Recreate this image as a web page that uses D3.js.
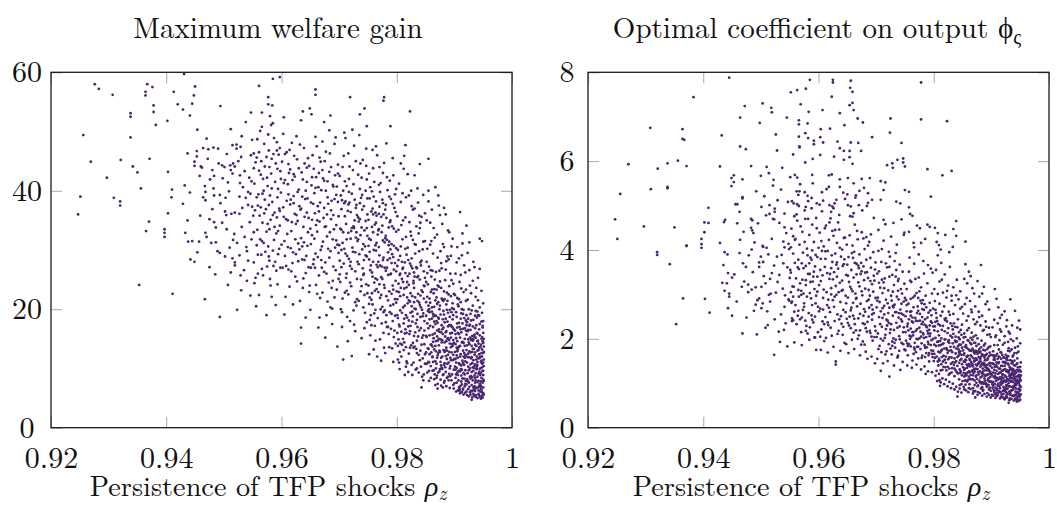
<!DOCTYPE html>
<html><head><meta charset="utf-8">
<script src="https://cdn.jsdelivr.net/npm/d3@7"></script>
<style>
body{margin:0;background:#fff}
svg{display:block}
</style></head>
<body><svg id="chart" width="1057" height="506"></svg>
<script>
// ---- axis values ----
const xTickValues = [0.92, 0.94, 0.96, 0.98, 1];
const welfareTicks = [0, 20, 40, 60];
const phiTicks = [0, 2, 4, 6, 8];
const leftTitle = "Maximum welfare gain";
const rightTitle = "Optimal coefficient on output ";
const xLabel = "Persistence of TFP shocks ";

// ---- left panel: (rho_z, maximum welfare gain) pairs ----
const welfareData = [
.9276,58.0,.9283,57.2,.9307,56.2,.9367,58.0,.9376,57.5,.9364,56.7,.9364,56.1,.9431,59.7,.9450,57.6,.9413,56.7,.9448,56.1,.9378,54.4,.9378,53.3,.9420,54.6,.9429,53.7,.9445,54.7,.9441,52.7,.9494,54.3,.9338,53.1,.9338,52.5,.9402,51.8,.9382,51.1,.9256,49.4,.9338,49.0,.9269,44.9,.9321,45.2,.9371,45.4,.9342,44.1,.9350,43.1,.9403,43.2,.9297,42.2,.9356,40.4,.9410,40.2,.9409,38.9,.9251,39.0,.9309,38.8,.9320,38.2,.9320,37.5,.9247,36.0,.9403,36.2,.9370,34.8,.9365,33.2,.9397,33.5,.9397,32.9,.9397,32.2,.9432,40.9,.9429,37.8,.9437,35.0,.9433,32.9,.9438,31.4,.9445,31.5,.9442,28.4,.9353,24.1,.9411,22.6,
.9453,46.7,.9464,47.2,.9473,47.0,.9482,47.3,.9490,47.1,.9515,47.7,.9522,47.8,.9529,47.4,.9522,47.1,.9453,45.8,.9449,44.9,.9449,44.2,.9460,44.1,.9462,43.9,.9472,45.4,.9480,43.5,.9491,44.6,.9501,44.0,.9497,44.3,.9511,44.3,.9516,44.6,.9512,43.5,.9519,44.1,.9525,45.0,.9530,45.7,.9547,46.0,.9552,46.3,
.9441,39.7,.9467,40.8,.9482,40.4,.9483,39.2,.9493,39.3,.9503,38.8,.9494,37.9,.9502,36.5,.9504,35.9,.9513,36.1,.9519,36.3,.9527,36.1,.9532,37.1,.9538,38.8,.9542,37.6,.9549,37.3,.9528,41.3,.9542,39.8,.9528,42.6,.9515,42.9,.9507,41.4,.9483,42.5,.9468,39.8,.9464,38.9,.9468,38.4,.9483,34.7,.9468,32.9,.9470,32.2,.9478,31.2,.9486,31.3,.9518,32.7,.9516,31.7,.9523,31.2,
.9437,46.3,.9449,28.0,.9454,29.6,.9475,27.1,.9485,25.9,.9515,28.6,.9519,27.4,.9519,27.9,.9529,25.7,.9542,28.2,.9540,24.8,.9467,21.7,.9493,18.7,.9523,19.9,.9530,23.2,.9507,24.1,.9493,29.5,.9540,29.8,
.9486,33.8,.9497,34.6,.9505,33.5,.9510,30.4,.9531,33.9,.9536,32.2,.9545,34.7,.9548,31.8,.9539,30.5,.9527,29.1,.9502,28.9,.9480,36.9,.9475,35.2,.9459,35.8,.9457,31.4,.9489,29.8,.9512,26.2,.9535,26.6,.9546,22.3,.9548,41.6,.9536,43.3,.9544,42.2,.9505,46.2,.9498,42.1,.9509,39.9,.9527,39.0,.9533,40.6,.9458,42.5,.9476,41.9,.9551,35.8,.9546,39.5,.9552,43.8,.9549,48.6,.9531,49.2,.9512,50.4,.9538,51.6,.9547,53.2,.9470,48.8,.9454,50.3,
.9556,20.5,.9552,27.9,.9553,24.4,.9555,25.3,.9568,25.7,.9580,25.1,.9575,27.2,.9581,24.0,.9593,24.2,.9589,28.0,.9578,28.9,.9565,29.2,.9559,29.2,.9557,45.6,.9561,46.5,.9565,45.0,.9578,46.8,.9586,46.2,.9592,48.2,.9597,47.2,.9559,37.5,.9567,39.5,.9561,57.7,.9577,55.8,.9577,54.6,.9580,52.6,.9566,53.2,.9582,51.1,.9577,49.5,.9563,50.1,.9566,50.8,.9585,58.9,.9597,59.2,.9585,51.4,.9584,54.4,
.9553,41.2,.9558,33.4,.9562,35.8,.9564,42.7,.9569,31.2,.9571,44.1,.9573,36.9,.9576,40.8,.9579,33.5,.9582,42.9,.9584,38.1,.9587,31.7,.9590,44.6,.9592,35.5,.9594,40.3,.9596,30.2,.9598,43.3,.9555,44.8,.9560,39.4,.9563,31.8,.9567,34.6,.9570,47.9,.9572,29.7,.9575,42.2,.9578,37.6,.9581,35.1,.9583,45.4,.9586,27.3,.9589,41.5,.9591,32.8,.9593,38.9,.9595,46.1,.9597,34.1,.9599,39.7,.9554,36.7,.9557,30.8,.9561,22.4,.9566,26.8,.9569,40.0,.9574,33.1,.9577,30.6,.9580,39.2,.9585,35.9,.9588,36.3,.9591,26.5,.9594,29.3,.9596,37.0,.9599,42.0,.9558,48.7,.9564,37.2,.9571,38.5,.9579,44.0,.9587,48.9,.9593,43.7,.9598,27.0,.9583,22.1,.9574,19.0,.9590,20.7,
.9604,52.4,.9634,51.9,.9637,53.4,.9649,53.9,.9652,52.9,.9659,57.1,.9659,56.2,
.9601,44.9,.9603,37.2,.9605,31.5,.9606,41.8,.9608,27.3,.9609,46.5,.9611,35.0,.9612,39.4,.9614,23.8,.9615,43.6,.9617,33.2,.9618,48.1,.9620,29.6,.9621,37.9,.9623,42.4,.9624,25.5,.9626,35.9,.9627,45.3,.9629,31.1,.9630,40.2,.9632,21.4,.9633,36.8,.9634,16.9,.9634,14.2,.9635,43.1,.9636,28.4,.9638,33.9,.9639,47.2,.9641,38.6,.9642,26.1,.9644,41.5,.9645,30.7,.9647,35.4,.9648,44.2,.9649,24.0,.9650,19.9,.9651,38.0,.9653,32.5,.9654,46.0,.9603,49.6,.9607,22.1,.9610,32.7,.9613,43.0,.9616,38.5,.9619,27.8,.9622,45.9,.9625,34.4,.9628,39.8,.9631,30.1,.9637,41.9,.9640,35.6,.9643,29.0,.9646,45.5,.9652,40.9,.9655,27.6,.9604,35.6,.9606,29.0,.9609,38.3,.9612,26.7,.9618,34.7,.9621,42.8,.9624,31.8,.9627,24.7,.9631,37.4,.9634,32.0,.9637,23.6,.9640,44.6,.9644,36.3,.9647,27.1,.9650,33.6,.9653,42.3,.9605,19.1,.9614,46.9,.9620,20.8,.9626,49.2,.9632,47.8,.9642,18.6,.9648,22.9,.9616,30.3,.9629,28.1,.9639,31.3,.9636,39.0,.9611,41.1,.9623,36.1,.9645,38.7,.9651,31.0,
.9674,51.6,.9685,52.7,.9709,49.8,
.9656,43.7,.9658,36.2,.9659,29.4,.9661,47.5,.9662,33.1,.9664,40.6,.9665,25.7,.9667,38.0,.9668,44.9,.9670,30.6,.9671,22.8,.9673,35.4,.9674,41.7,.9676,27.9,.9677,46.6,.9679,32.3,.9680,38.9,.9682,24.5,.9683,43.2,.9685,29.8,.9686,36.7,.9688,20.1,.9689,41.0,.9691,33.5,.9692,47.9,.9694,26.6,.9695,39.3,.9697,30.9,.9698,44.4,.9699,35.7,.9657,31.9,.9660,24.1,.9663,37.4,.9666,45.6,.9669,28.3,.9672,42.1,.9675,33.9,.9678,19.0,.9681,30.2,.9684,46.3,.9687,38.3,.9690,27.2,.9693,42.6,.9696,23.3,.9699,29.5,.9657,39.6,.9660,42.3,.9663,28.8,.9666,34.8,.9669,40.1,.9672,31.4,.9675,45.0,.9678,26.0,.9681,37.8,.9684,33.0,.9687,23.6,.9690,35.9,.9693,30.4,.9696,40.7,.9699,25.1,.9664,16.9,.9676,15.2,.9688,17.5,.9697,13.7,.9659,49.1,.9671,48.3,.9683,50.2,.9694,49.0,.9667,21.9,.9680,21.3,.9692,22.0,.9658,27.0,.9674,37.1,.9686,44.0,.9698,38.1,.9662,35.0,.9677,40.0,.9689,31.8,.9665,43.0,.9695,34.2,
.9719,55.8,.9736,52.9,.9744,53.9,
.9701,42.5,.9702,33.6,.9704,27.1,.9705,38.4,.9706,21.8,.9708,45.9,.9709,30.2,.9710,35.7,.9712,25.3,.9713,40.8,.9714,18.7,.9716,32.9,.9717,28.5,.9718,44.1,.9720,36.4,.9721,23.9,.9722,39.5,.9724,29.7,.9725,34.0,.9726,47.6,.9728,26.4,.9729,37.1,.9730,20.6,.9732,31.5,.9733,42.7,.9734,27.6,.9736,35.2,.9737,23.0,.9738,38.8,.9740,30.1,.9741,45.2,.9742,25.8,.9744,33.3,.9745,19.4,.9746,40.0,.9748,28.9,.9749,36.0,.9702,24.6,.9704,36.9,.9706,31.2,.9708,27.7,.9710,41.6,.9712,34.4,.9714,29.0,.9716,22.5,.9718,38.0,.9720,31.9,.9722,26.8,.9724,43.5,.9726,33.7,.9728,21.2,.9730,37.6,.9732,28.0,.9734,34.8,.9736,40.3,.9738,25.0,.9740,36.8,.9742,31.0,.9744,22.4,.9746,34.9,.9748,41.9,.9701,28.2,.9703,39.2,.9705,17.0,.9707,33.0,.9709,37.9,.9711,29.4,.9713,23.1,.9715,36.6,.9717,42.0,.9719,27.3,.9721,33.2,.9723,30.4,.9725,19.8,.9727,38.5,.9729,32.1,.9731,25.1,.9733,35.5,.9735,29.3,.9737,44.6,.9739,33.8,.9741,26.9,.9743,37.4,.9745,30.6,.9747,24.2,.9749,32.4,.9707,11.5,.9722,12.1,.9715,14.6,.9728,16.3,.9739,15.1,.9748,17.8,.9711,48.9,.9723,50.3,.9735,49.4,.9747,47.1,.9703,20.0,.9719,18.0,.9731,21.7,.9742,20.3,.9706,44.0,.9716,46.3,.9729,45.0,.9739,42.2,.9704,30.0,.9713,26.0,.9727,35.0,.9733,31.8,.9743,28.3,.9749,38.7,
.9748,50.9,.9778,55.8,.9777,55.2,.9789,50.9,.9794,11.1,.9752,12.4,
.9751,35.1,.9752,28.4,.9753,22.0,.9754,40.6,.9755,31.7,.9756,17.3,.9757,26.2,.9758,37.0,.9759,43.8,.9760,30.0,.9761,24.5,.9762,34.3,.9763,19.9,.9764,38.2,.9765,27.5,.9766,46.0,.9767,32.6,.9768,22.9,.9769,36.1,.9770,29.1,.9771,14.9,.9772,41.3,.9773,25.4,.9774,33.0,.9775,20.4,.9776,37.9,.9777,28.7,.9778,44.7,.9779,23.6,.9780,32.0,.9781,17.8,.9782,35.4,.9783,27.0,.9784,40.1,.9785,21.5,.9786,30.8,.9787,13.6,.9788,34.7,.9789,25.9,.9790,38.6,.9791,19.2,.9792,29.3,.9793,45.5,.9794,23.3,.9795,33.6,.9796,16.4,.9797,27.8,.9798,36.4,.9799,21.1,.9751,24.0,.9753,38.7,.9755,19.0,.9757,33.9,.9759,28.0,.9761,41.5,.9763,25.2,.9765,35.8,.9767,18.5,.9769,30.5,.9771,39.8,.9773,22.4,.9775,34.1,.9777,16.0,.9779,31.3,.9781,26.5,.9783,42.3,.9785,29.6,.9787,23.0,.9789,35.0,.9791,31.0,.9793,18.0,.9795,26.7,.9797,39.4,.9799,30.3,.9752,31.9,.9754,26.6,.9756,36.5,.9758,20.8,.9760,39.0,.9762,23.1,.9764,29.9,.9766,25.0,.9768,33.3,.9770,37.3,.9772,20.0,.9774,27.2,.9776,31.6,.9778,24.1,.9780,36.8,.9782,22.2,.9784,28.3,.9786,33.8,.9788,19.5,.9790,26.0,.9792,34.0,.9794,28.8,.9796,37.1,.9798,24.8,.9752,42.9,.9758,46.9,.9764,47.5,.9770,44.0,.9776,43.0,.9782,48.0,.9788,41.7,.9794,42.6,.9799,40.3,.9754,15.6,.9760,13.2,.9766,12.0,.9773,11.3,.9780,12.6,.9786,15.8,.9792,13.4,.9798,14.2,.9756,21.6,.9762,17.2,.9768,28.0,.9774,17.6,.9779,19.8,.9785,17.0,.9791,22.6,.9797,18.9,.9753,29.7,.9759,33.0,.9765,31.2,.9771,27.4,.9777,36.0,.9783,31.7,.9789,30.1,.9795,30.7,.9757,39.9,.9763,36.3,.9769,41.0,.9775,38.5,.9781,37.6,.9787,39.0,.9793,37.8,.9799,33.1,
.9823,53.4,.9815,47.7,.9855,45.4,.9840,44.5,.9831,42.6,.9855,40.0,.9843,6.8,
.9801,27.3,.9802,18.5,.9803,33.4,.9804,22.9,.9805,12.8,.9806,29.0,.9807,38.1,.9808,16.2,.9809,25.1,.9810,31.8,.9811,20.3,.9812,43.7,.9813,14.4,.9814,27.9,.9815,35.5,.9816,19.0,.9817,23.7,.9818,10.9,.9819,30.4,.9820,17.1,.9821,39.2,.9822,26.0,.9823,21.3,.9824,33.1,.9825,13.9,.9826,28.6,.9827,19.6,.9828,36.8,.9829,24.4,.9830,15.5,.9831,31.0,.9832,22.0,.9833,9.8,.9834,27.1,.9835,18.2,.9836,40.4,.9837,25.6,.9838,12.3,.9839,29.8,.9840,20.7,.9841,34.6,.9842,16.8,.9843,23.2,.9844,8.6,.9845,30.1,.9846,19.3,.9847,26.4,.9848,14.1,.9849,36.2,
.9801,21.7,.9803,14.9,.9805,25.8,.9807,30.6,.9809,19.4,.9811,35.0,.9813,23.5,.9815,16.6,.9817,29.2,.9819,21.0,.9821,12.5,.9823,27.7,.9825,32.4,.9827,17.9,.9829,24.8,.9831,20.1,.9833,30.9,.9835,14.7,.9837,22.6,.9839,35.8,.9841,18.7,.9843,28.2,.9845,11.7,.9847,21.8,.9849,25.3,
.9802,30.0,.9804,17.4,.9806,22.2,.9808,34.2,.9810,26.8,.9812,13.1,.9814,20.6,.9816,32.2,.9818,24.6,.9820,28.3,.9822,15.8,.9824,22.7,.9826,37.4,.9828,18.8,.9830,26.2,.9832,29.4,.9834,13.3,.9836,21.4,.9838,32.8,.9840,25.0,.9842,10.3,.9844,19.9,.9846,31.4,.9848,23.9,
.9801,35.7,.9804,41.2,.9807,44.6,.9810,39.6,.9813,45.9,.9816,38.9,.9819,42.8,.9822,34.7,.9825,40.0,.9828,31.7,.9831,37.0,.9834,34.0,.9837,38.0,.9840,33.7,.9843,35.6,.9846,39.3,.9849,31.5,
.9802,11.5,.9805,9.9,.9808,12.0,.9811,15.0,.9814,8.9,.9817,11.2,.9820,9.4,.9823,13.5,.9826,10.6,.9829,11.0,.9832,16.1,.9835,10.0,.9838,9.3,.9841,13.0,.9844,15.2,.9847,9.0,.9849,10.8,
.9803,24.3,.9806,19.8,.9809,28.0,.9812,22.4,.9815,26.1,.9818,18.6,.9821,24.1,.9824,17.2,.9827,26.9,.9830,21.2,.9833,17.6,.9836,25.4,.9839,16.4,.9842,27.4,.9845,22.9,.9848,18.0,
.9801,16.0,.9806,14.2,.9811,27.0,.9816,13.6,.9821,18.1,.9826,20.5,.9831,13.7,.9836,17.0,.9841,22.3,.9846,15.6,
.9872,39.2,.9882,37.1,.9871,6.6,
.9851,24.6,.9852,15.3,.9853,30.2,.9854,19.7,.9855,11.1,.9856,27.2,.9857,21.8,.9858,34.6,.9859,14.0,.9860,25.5,.9861,18.4,.9862,9.6,.9863,29.4,.9864,22.7,.9865,13.2,.9866,32.1,.9867,17.5,.9868,26.3,.9869,8.4,.9870,20.9,.9871,28.7,.9872,12.6,.9873,23.8,.9874,16.2,.9875,35.9,.9876,19.1,.9877,10.5,.9878,26.9,.9879,14.8,.9880,31.0,.9881,21.4,.9882,7.6,.9883,17.8,.9884,24.9,.9885,12.1,.9886,28.1,.9887,19.9,.9888,15.0,.9889,33.3,.9890,22.5,.9891,9.1,.9892,18.7,.9893,26.0,.9894,13.6,.9895,30.6,.9896,20.2,.9897,11.4,.9898,24.3,.9899,16.6,
.9851,18.9,.9853,22.1,.9855,16.8,.9857,12.4,.9859,26.6,.9861,20.3,.9863,14.5,.9865,23.4,.9867,11.2,.9869,18.0,.9871,24.0,.9873,13.9,.9875,20.6,.9877,27.8,.9879,9.9,.9881,16.9,.9883,21.7,.9885,26.7,.9887,13.0,.9889,19.4,.9891,23.9,.9893,11.8,.9895,17.1,.9897,21.0,.9899,14.3,
.9852,28.0,.9854,13.4,.9856,20.0,.9858,17.2,.9860,31.5,.9862,15.7,.9864,18.8,.9866,25.0,.9868,12.9,.9870,16.4,.9872,21.2,.9874,26.5,.9876,14.9,.9878,10.1,.9880,18.3,.9882,23.0,.9884,15.4,.9886,20.8,.9888,10.8,.9890,28.4,.9892,14.2,.9894,22.2,.9896,16.0,.9898,19.0,
.9851,12.7,.9853,9.3,.9856,7.9,.9859,10.4,.9862,12.0,.9865,8.2,.9868,10.0,.9871,7.4,.9874,9.5,.9877,7.1,.9880,8.9,.9883,10.9,.9886,7.0,.9889,8.6,.9892,6.7,.9895,8.0,.9898,7.2,.9899,9.8,
.9852,35.0,.9855,38.2,.9858,30.9,.9861,36.8,.9864,33.7,.9867,40.6,.9870,32.6,.9873,37.5,.9876,29.8,.9879,34.4,.9882,30.5,.9885,36.0,.9888,28.9,.9891,33.0,.9894,29.0,.9897,31.9,
.9853,26.1,.9857,18.3,.9861,23.3,.9865,19.0,.9869,22.0,.9873,18.4,.9877,23.6,.9881,13.1,.9885,16.1,.9889,12.3,.9893,15.9,.9897,13.8,
.9851,21.2,.9855,20.6,.9859,22.9,.9863,17.0,.9867,21.5,.9871,14.7,.9875,24.7,.9879,21.6,.9883,12.8,.9887,22.8,.9891,17.3,.9895,24.9,.9899,20.0,
.9910,36.4,.9921,34.1,.9944,31.9,.9948,31.5,.9926,31.3,.9914,32.8,.9944,5.2,.9930,4.7,
.9901,22.4,.9902,14.1,.9903,9.0,.9904,27.9,.9905,17.6,.9906,11.8,.9907,20.5,.9908,6.8,.9909,24.6,.9910,15.2,.9911,12.4,.9912,19.3,.9913,29.1,.9914,8.3,.9915,16.7,.9916,22.9,.9917,10.6,.9918,13.8,.9919,26.2,.9920,18.1,.9921,7.3,.9922,11.0,.9923,21.6,.9924,14.9,.9925,9.7,.9926,17.2,.9927,24.0,.9928,12.7,.9929,6.2,.9930,19.8,.9931,15.5,.9932,10.2,.9933,28.0,.9934,13.3,.9935,8.8,.9936,18.9,.9937,22.1,.9938,11.5,.9939,16.0,.9940,7.7,.9941,25.3,.9942,14.2,.9943,9.4,.9944,20.3,.9945,12.0,.9946,6.6,.9947,17.9,.9948,10.8,.9949,14.6,.9950,8.1,
.9901,16.4,.9903,19.5,.9905,12.9,.9907,8.0,.9909,17.0,.9911,21.2,.9913,14.4,.9915,10.9,.9917,18.5,.9919,7.4,.9921,13.1,.9923,16.3,.9925,20.0,.9927,10.0,.9929,14.8,.9931,8.5,.9933,18.2,.9935,12.3,.9937,15.2,.9939,9.9,.9941,19.0,.9943,13.5,.9945,7.2,.9947,11.3,.9949,16.9,.9950,12.6,
.9902,11.6,.9904,7.6,.9906,20.8,.9908,13.7,.9910,9.5,.9912,16.1,.9914,11.3,.9916,14.3,.9918,7.0,.9920,12.2,.9922,17.8,.9924,10.3,.9926,6.9,.9928,19.2,.9930,11.9,.9932,14.7,.9934,6.4,.9936,10.7,.9938,17.3,.9940,13.0,.9942,9.1,.9944,15.6,.9946,11.1,.9948,6.0,.9950,18.0,.9951,10.4,
.9902,26.0,.9905,30.5,.9908,28.6,.9911,25.8,.9914,31.1,.9917,27.4,.9920,23.3,.9923,29.5,.9926,26.6,.9929,22.7,.9932,24.8,.9935,27.1,.9938,23.6,.9941,21.5,.9944,26.8,.9947,23.1,.9950,21.0,
.9901,10.3,.9904,13.5,.9906,16.0,.9909,10.7,.9912,7.8,.9915,13.0,.9918,9.0,.9921,15.7,.9924,12.5,.9927,8.6,.9930,13.8,.9933,9.6,.9936,14.0,.9939,12.0,.9942,6.3,.9945,10.0,.9948,13.2,.9951,7.9,
.9903,6.1,.9906,6.3,.9910,5.8,.9913,6.0,.9916,5.6,.9919,5.9,.9922,5.5,.9925,5.3,.9928,5.6,.9931,5.1,.9934,5.4,.9937,5.2,.9940,5.0,.9943,5.5,.9946,4.9,.9949,5.1,.9951,5.6,
.9904,18.7,.9908,21.7,.9912,23.5,.9916,19.9,.9920,21.4,.9924,18.4,.9928,16.5,.9932,20.6,.9936,16.8,.9940,19.6,.9944,17.5,.9948,19.4,.9951,15.0,
.9930,7.2,.9935,7.0,.9940,8.6,.9945,8.9,.9950,9.6,.9932,8.0,.9937,9.2,.9942,11.7,.9947,8.4,.9951,12.8,.9943,7.0,.9949,7.6,.9938,6.7,.9933,11.4,.9946,14.0,
.9552,33.0,.9557,38.9,.9561,43.4,.9566,31.5,.9570,36.2,.9574,45.7,.9579,28.2,.9583,40.4,.9588,33.9,.9592,46.8,.9597,36.6,.9600,30.9,.9604,41.3,.9608,35.2,.9612,44.5,.9617,26.4,.9621,39.1,.9625,29.3,.9630,43.8,.9634,37.0,.9638,25.2,.9642,40.0,.9646,33.0,.9651,27.0,.9655,37.8,.9559,26.0,.9568,42.0,.9576,34.4,.9585,29.9,.9594,33.2,.9602,27.0,.9611,30.5,.9619,41.8,.9628,34.9,.9636,30.6,.9644,43.9,.9653,35.1,.9606,46.2,.9615,37.7,.9640,28.3,
.9656,28.4,.9659,40.5,.9662,22.6,.9665,36.5,.9668,30.0,.9671,43.5,.9674,26.3,.9677,34.0,.9680,41.6,.9683,28.7,.9686,35.2,.9689,24.8,.9692,38.6,.9695,31.6,.9698,42.9,.9701,25.9,.9704,33.4,.9707,40.0,.9710,22.8,.9713,31.8,.9716,37.7,.9719,24.5,.9722,33.7,.9725,41.1,.9728,29.6,.9731,35.9,.9734,21.4,.9737,32.5,.9740,39.3,.9743,26.0,.9746,29.1,.9749,22.7,.9660,34.2,.9670,27.0,.9679,36.0,.9690,40.7,.9700,30.8,.9711,38.2,.9720,28.0,.9730,33.0,.9739,23.9,.9748,33.7,.9666,18.6,.9685,20.3,.9705,19.5,.9726,17.4,.9744,16.8,.9717,39.8,.9736,37.9,.9747,44.2,
.9751,30.7,.9753,18.2,.9755,27.4,.9757,22.7,.9759,36.0,.9761,19.3,.9763,30.8,.9765,23.4,.9767,27.1,.9769,33.5,.9771,21.9,.9773,35.6,.9775,25.1,.9777,19.5,.9779,27.0,.9781,32.4,.9783,17.0,.9785,25.8,.9787,31.4,.9789,20.6,.9791,27.8,.9793,24.0,.9795,15.3,.9797,21.7,.9799,26.4,.9801,19.0,.9803,28.3,.9805,17.1,.9807,23.6,.9809,14.0,.9811,24.6,.9813,18.4,.9815,30.2,.9817,16.0,.9819,25.6,.9821,21.5,.9823,16.3,.9825,27.3,.9827,22.2,.9829,13.5,.9831,25.5,.9833,20.0,.9835,26.9,.9837,15.4,.9839,21.1,.9841,27.9,.9843,14.0,.9845,18.8,.9847,24.0,.9849,12.4,.9752,20.9,.9758,25.5,.9764,34.6,.9770,24.2,.9776,28.3,.9782,19.0,.9788,28.6,.9794,20.8,.9800,23.0,.9806,26.0,.9812,17.6,.9818,22.0,.9824,19.4,.9830,23.6,.9836,19.2,.9842,20.3,.9848,16.4,.9804,11.0,.9816,10.3,.9828,14.3,.9840,11.4,.9846,8.0,.9763,14.7,.9778,13.5,.9790,16.7,.9802,13.8,.9814,15.9,.9827,8.9,.9835,12.6,
.9851,15.5,.9852,10.8,.9853,17.6,.9854,24.2,.9855,13.3,.9856,9.6,.9857,15.6,.9858,21.1,.9859,8.4,.9860,14.0,.9861,19.6,.9862,26.5,.9863,11.1,.9864,15.1,.9865,20.4,.9866,9.0,.9867,13.8,.9868,18.9,.9869,23.3,.9870,11.8,.9871,17.7,.9872,9.3,.9873,15.0,.9874,20.0,.9875,12.8,.9876,8.1,.9877,16.1,.9878,21.8,.9879,12.0,.9880,15.8,.9881,9.0,.9882,19.1,.9883,14.4,.9884,10.2,.9885,18.4,.9886,13.5,.9887,8.4,.9888,21.4,.9889,15.1,.9890,11.0,.9891,14.8,.9892,19.9,.9893,8.7,.9894,17.3,.9895,12.7,.9896,9.0,.9897,16.9,.9898,12.3,.9899,22.6,
.9901,12.8,.9902,8.4,.9903,15.1,.9904,10.1,.9905,21.9,.9906,8.9,.9907,13.6,.9908,17.7,.9909,6.5,.9910,12.0,.9911,16.6,.9912,10.5,.9913,7.3,.9914,14.5,.9915,19.2,.9916,9.2,.9917,12.6,.9918,16.8,.9919,11.2,.9920,7.9,.9921,19.0,.9922,13.9,.9923,9.2,.9924,16.5,.9925,11.9,.9926,14.1,.9927,17.4,.9928,8.3,.9929,11.7,.9930,15.0,.9931,12.8,.9932,17.1,.9933,6.8,.9934,10.1,.9935,15.7,.9936,12.7,.9937,8.0,.9938,13.8,.9939,18.6,.9940,10.6,.9941,14.7,.9942,7.9,.9943,16.6,.9944,11.8,.9945,13.6,.9946,9.3,.9947,15.0,.9948,12.0,.9949,9.6,.9950,14.3,.9951,11.5,.9947,6.4,.9941,6.8,.9936,6.2,.9925,7.6,.9919,9.7,.9911,9.9,.9908,10.9,.9905,14.6,.9940,11.1,.9935,10.4,.9931,10.9,.9944,9.9,.9950,16.0,.9948,15.3,.9950,6.8,
.9862,11.9,.9866,15.9,.9870,8.8,.9874,13.0,.9878,17.3,.9882,10.6,.9886,16.3,.9890,8.0,.9894,11.4,.9898,14.8,.9902,9.8,.9906,13.2,.9910,7.0,.9914,17.6,.9918,11.8,.9922,8.2,.9926,12.9,.9930,9.4,.9934,15.4,.9938,9.9,.9942,13.1,.9946,7.8,.9950,11.0,
.9864,9.7,.9868,14.6,.9872,18.6,.9876,11.1,.9880,6.8,.9884,13.0,.9888,17.9,.9892,10.0,.9896,14.1,.9900,7.5,.9904,12.2,.9908,15.8,.9912,8.8,.9916,12.0,.9920,16.4,.9924,6.5,.9928,10.7,.9932,13.3,.9936,8.4,.9940,14.6,.9944,7.4,.9948,10.2,.9951,13.7,
.9863,19.2,.9871,12.2,.9879,16.6,.9887,11.6,.9895,19.5,.9903,11.0,.9911,18.4,.9919,12.3,.9927,15.2,.9935,6.6,.9943,12.4,.9950,8.9,.9867,7.2,.9875,9.9,.9883,7.9,.9891,12.8,.9899,6.6,.9907,9.6,.9915,6.6,.9923,11.9,.9931,6.2,.9939,10.3,.9947,12.6,
.9942,5.7,.9948,5.4,.9945,6.1,.9938,5.5,.9933,5.7,.9927,6.0,.9921,6.1,.9915,6.4,.9909,6.2,.9950,5.8,.9946,7.0,.9936,7.6,.9929,8.7,.9924,7.8,.9917,8.3,.9913,9.8,.9905,9.3,.9900,11.6,.9893,10.4,.9885,9.4,.9877,11.8,.9869,10.8,.9860,12.7,.9856,11.0,
.9943,18.9,.9937,19.7,.9929,18.1,.9921,17.3,.9913,20.0,.9905,16.9,.9897,18.3,.9889,17.1,.9881,19.7,.9873,16.6,.9865,17.9,.9857,19.5,.9949,17.2,.9940,15.9,.9933,14.9,.9925,14.4,.9918,15.0,.9910,13.8,.9902,15.8,.9894,15.2,.9886,14.6,.9878,14.4,.9870,15.4,.9862,13.7
];

// ---- right panel: (rho_z, optimal coefficient phi) pairs ----
const phiData = [
.9383,7.44,.9308,6.75,.9364,6.72,.9364,6.50,.9367,6.48,.9432,6.58,.9270,5.93,.9321,5.83,.9338,5.95,.9356,6.01,.9371,5.89,.9256,5.26,.9309,5.37,.9338,5.42,.9338,5.39,.9247,4.69,.9297,4.53,.9350,4.51,.9251,4.25,.9371,4.10,.9409,4.95,.9402,4.62,.9409,4.61,.9402,4.40,.9397,4.25,.9397,4.13,.9397,4.05,.9429,4.16,.9438,4.68,.9436,4.63,.9429,5.88,.9445,7.88,.9320,3.95,.9320,3.89,.9342,3.68,.9371,4.09,.9353,2.33,.9365,2.91,.9403,2.90,.9411,2.59,.9443,2.69,.9450,2.52,.9433,3.26,.9441,3.25,.9437,3.08,.9445,3.02,.9445,2.95,.9443,3.48,.9435,3.66,.9437,3.95,.9442,3.90,
.9472,7.24,.9503,7.30,.9518,7.20,.9519,7.10,.9464,6.33,.9474,6.27,.9528,6.24,.9483,5.89,.9510,5.87,.9453,5.68,.9449,5.62,.9453,5.53,.9449,5.44,.9468,5.59,.9500,5.67,.9514,5.73,.9522,5.58,.9521,5.45,.9492,5.32,.9468,5.19,.9468,5.16,.9456,5.03,.9459,5.03,.9463,4.86,.9501,4.97,.9515,5.01,.9524,4.93,.9524,4.86,.9529,5.12,.9515,4.81,.9509,4.78,.9483,4.70,.9485,4.67,.9495,4.60,.9483,4.50,.9485,4.44,.9487,4.38,.9521,4.70,.9523,4.69,.9532,4.61,.9519,4.25,.9504,4.07,.9464,4.23,.9459,4.60,.9454,3.45,.9450,3.38,.9468,2.12,.9493,2.10,.9523,1.64,.9475,2.48,.9488,2.63,
.9491,3.16,.9501,3.17,.9484,3.11,.9478,3.22,.9503,2.80,.9501,2.69,.9494,2.87,.9497,2.91,.9508,2.25,.9531,2.16,.9540,2.20,.9467,3.17,.9471,3.29,.9469,3.70,.9474,3.62,.9479,3.88,.9484,4.01,.9500,3.85,.9503,4.09,.9510,4.05,.9513,3.90,.9497,3.62,.9504,3.73,.9519,3.48,.9516,3.35,.9523,3.65,.9528,3.85,.9536,3.89,.9541,4.06,.9549,4.02,.9539,3.70,.9532,3.44,.9526,3.04,.9514,2.99,.9516,2.84,.9508,3.25,.9541,2.72,.9542,2.98,.9548,2.89,
.9478,3.05,.9486,3.50,.9491,2.77,.9497,3.72,.9505,3.41,.9511,2.62,.9517,3.02,.9524,2.44,.9529,3.28,.9535,2.55,.9538,3.13,.9543,2.35,.9546,3.61,.9549,2.86,.9533,1.93,.9546,1.83,.9512,2.31,.9458,2.84,.9463,3.93,.9470,4.41,.9489,4.17,.9506,5.21,.9535,5.36,.9541,4.82,.9547,5.08,.9537,5.85,.9526,6.60,.9498,6.86,.9545,6.98,.9464,6.98,.9541,4.51,.9544,4.38,.9539,4.19,.9548,4.14,
.9554,2.46,.9554,2.40,.9565,2.63,.9573,2.65,.9578,2.18,.9581,2.12,.9589,2.43,.9594,2.03,.9553,2.81,.9556,2.95,.9565,3.10,.9570,2.99,.9568,3.25,.9557,3.17,.9550,3.37,.9552,3.49,.9566,3.57,.9571,3.70,.9578,3.64,.9588,3.78,.9595,3.89,.9585,3.46,.9591,3.40,.9578,3.32,.9598,3.06,.9585,3.03,.9589,2.76,.9599,2.72,.9556,2.42,.9575,2.80,
.9552,7.55,.9563,7.60,.9578,7.63,.9585,7.83,.9583,7.11,.9566,6.92,.9566,6.83,.9566,6.55,.9582,6.52,.9592,6.46,.9592,6.38,.9577,6.63,.9567,6.33,.9567,6.31,.9577,5.97,.9590,6.05,.9589,5.69,.9551,5.64,.9567,5.32,.9559,5.69,.9563,5.63,.9565,5.24,.9563,5.03,.9566,4.99,.9581,5.22,.9582,5.10,.9578,4.97,.9554,5.10,.9562,4.80,.9577,4.70,.9589,4.57,.9597,5.05,.9559,4.23,
.9551,3.55,.9553,4.48,.9554,2.84,.9556,3.92,.9557,5.05,.9558,2.61,.9560,4.25,.9561,3.36,.9562,2.33,.9563,4.66,.9565,3.78,.9566,2.95,.9567,4.12,.9568,5.48,.9570,3.08,.9571,2.48,.9572,4.41,.9574,3.59,.9575,2.72,.9576,4.89,.9578,3.21,.9579,2.29,.9580,4.03,.9582,3.46,.9583,2.58,.9584,4.34,.9586,3.83,.9587,2.91,.9588,5.17,.9590,3.29,.9591,2.37,.9592,4.18,.9594,3.63,.9595,2.80,.9596,4.72,.9598,3.40,.9599,2.15,.9552,4.06,.9555,3.18,.9559,3.71,.9564,2.52,.9569,4.53,.9573,3.94,.9577,2.41,.9581,3.88,.9585,2.26,.9589,3.99,.9593,3.12,.9597,4.49,.9558,1.92,.9571,1.86,.9584,1.98,.9596,1.75,.9562,5.32,.9576,5.30,.9590,5.50,.9581,6.85,.9569,7.28,.9556,6.15,
.9625,7.83,.9625,7.77,.9656,7.81,.9655,7.65,.9659,7.56,.9623,7.45,.9659,7.31,.9654,7.26,.9661,7.15,.9607,7.15,.9637,7.08,.9668,6.96,.9677,6.87,.9725,6.96,.9778,7.77,.9778,6.94,.9823,6.90,.9724,6.64,.9693,6.54,.9604,6.72,.9603,6.54,.9656,6.42,.9669,6.41,.9744,6.41,.9637,6.29,.9644,6.23,.9654,6.23,.9674,6.23,.9603,6.14,.9627,6.10,.9644,6.03,.9654,6.09,.9659,5.94,.9737,6.03,.9747,6.06,.9747,5.97,.9750,5.88,.9728,5.95,.9729,5.85,.9719,5.91,.9789,5.82,.9831,5.78,.9815,5.68,.9618,5.68,.9623,5.70,.9637,5.59,.9651,5.62,.9661,5.50,.9675,5.60,.9689,5.62,.9708,5.55,.9716,5.52,.9713,5.35,.9679,5.40,.9671,5.33,.9637,5.42,.9643,5.29,.9650,5.25,.9665,5.23,.9686,5.28,.9606,5.30,.9618,5.42,.9750,5.35,.9757,5.31,.9795,5.20,.9708,5.13,.9693,5.13,.9684,4.99,.9670,5.01,.9661,4.83,.9659,4.75,.9651,5.01,.9628,5.05,.9619,5.01,.9631,5.13,.9608,5.11,.9588,4.94,.9626,4.94,.9622,4.86,.9735,5.09,.9742,5.05,.9757,4.96,.9759,4.81,.9763,4.77,.9855,4.19,.9789,4.57,.9776,4.49,.9778,4.16,.9765,4.16,.9744,4.69,.9730,4.61,.9749,4.39,.9713,4.68,.9603,2.05,.9593,2.03,.9630,1.49,.9630,1.42,.9685,1.55,
.9601,3.21,.9602,4.39,.9603,2.68,.9604,3.80,.9605,2.21,.9606,4.87,.9607,3.43,.9608,2.92,.9609,4.08,.9610,1.95,.9611,3.62,.9612,2.49,.9613,4.55,.9614,3.05,.9615,2.76,.9616,3.98,.9617,2.31,.9618,4.23,.9619,3.35,.9620,2.60,.9621,4.71,.9622,3.14,.9623,2.07,.9624,3.73,.9625,2.87,.9626,4.32,.9627,3.50,.9628,2.40,.9629,3.92,.9631,2.99,.9632,4.16,.9633,2.55,.9634,3.58,.9635,2.18,.9636,4.46,.9637,3.26,.9638,2.83,.9639,3.85,.9640,2.34,.9641,4.01,.9642,3.10,.9643,2.65,.9644,3.68,.9645,1.91,.9646,4.28,.9647,2.97,.9648,3.44,.9649,2.45,.9601,2.62,.9603,3.55,.9605,4.20,.9607,2.39,.9609,3.11,.9611,4.49,.9613,2.02,.9615,3.48,.9617,2.88,.9619,4.62,.9621,2.25,.9623,3.88,.9625,3.34,.9627,2.72,.9629,4.45,.9631,3.67,.9633,2.11,.9635,3.05,.9637,4.05,.9639,2.51,.9641,3.31,.9643,2.27,.9645,3.79,.9647,2.60,.9649,4.12,.9604,1.75,.9616,1.69,.9626,1.82,.9638,1.73,.9648,1.88,.9602,5.02,.9614,5.37,.9624,4.98,.9636,4.79,.9646,5.15,.9608,6.42,.9620,6.73,.9633,6.44,.9645,6.81,.9612,3.97,.9622,3.00,.9632,3.40,.9642,3.64,
.9651,2.93,.9652,3.84,.9653,2.30,.9654,4.33,.9655,3.17,.9656,2.64,.9657,3.55,.9658,1.98,.9659,4.10,.9660,2.81,.9661,3.38,.9662,2.45,.9663,4.57,.9664,3.02,.9665,2.19,.9666,3.69,.9667,2.73,.9668,4.24,.9669,3.27,.9670,2.08,.9671,3.90,.9672,2.56,.9673,3.46,.9674,1.87,.9675,4.40,.9676,2.98,.9677,2.35,.9678,3.63,.9679,2.67,.9680,4.02,.9681,3.13,.9682,2.24,.9683,3.78,.9684,2.85,.9686,3.37,.9687,2.50,.9688,4.18,.9689,2.97,.9690,2.13,.9691,3.60,.9692,2.76,.9693,3.23,.9694,1.96,.9695,3.95,.9696,2.58,.9697,3.31,.9698,2.28,.9699,3.72,.9651,2.36,.9653,3.28,.9655,4.76,.9657,2.70,.9659,3.07,.9661,2.14,.9663,3.71,.9665,2.90,.9667,4.43,.9669,2.46,.9671,3.18,.9673,2.79,.9675,3.52,.9677,1.94,.9679,3.32,.9681,2.61,.9683,4.29,.9685,2.38,.9687,3.10,.9689,2.18,.9691,4.35,.9693,2.43,.9695,3.06,.9697,2.04,.9699,2.92,.9652,1.68,.9662,1.77,.9672,1.63,.9682,1.71,.9692,1.60,.9698,1.45,.9656,4.98,.9664,5.18,.9676,4.89,.9686,5.06,.9696,4.72,.9660,2.52,.9670,3.59,.9680,2.33,.9690,3.82,.9666,3.45,.9678,4.26,.9688,2.70,.9658,3.93,.9684,3.50,.9694,2.66,
.9701,2.71,.9702,3.47,.9703,2.12,.9704,3.98,.9705,2.49,.9706,1.84,.9707,3.15,.9708,1.28,.9708,2.62,.9709,3.73,.9710,2.27,.9711,3.03,.9712,1.96,.9713,4.21,.9714,2.55,.9715,3.36,.9716,2.09,.9717,2.88,.9718,1.72,.9719,3.61,.9720,2.41,.9721,3.09,.9722,1.88,.9723,1.15,.9723,2.70,.9724,3.85,.9725,2.21,.9726,2.97,.9727,1.65,.9728,3.44,.9729,2.52,.9730,2.01,.9731,3.21,.9732,2.77,.9733,1.80,.9734,3.93,.9735,2.36,.9736,2.95,.9737,1.58,.9738,3.30,.9739,2.48,.9740,2.06,.9741,3.67,.9742,1.30,.9742,2.66,.9743,3.12,.9744,1.91,.9745,2.39,.9746,3.51,.9747,2.15,.9748,2.84,.9749,1.76,.9701,2.04,.9703,2.93,.9705,3.52,.9707,2.33,.9709,1.70,.9711,2.69,.9713,3.27,.9715,2.02,.9717,3.70,.9719,2.30,.9721,2.58,.9723,3.40,.9725,1.78,.9727,2.86,.9729,3.06,.9731,2.20,.9733,2.60,.9735,3.55,.9737,2.25,.9739,2.89,.9741,1.99,.9743,2.44,.9745,3.02,.9747,2.54,.9749,3.24,.9702,1.55,.9712,1.45,.9720,1.50,.9731,1.40,.9738,1.62,.9746,1.48,.9704,4.45,.9716,4.58,.9726,4.30,.9736,4.12,.9748,4.34,.9706,2.83,.9714,2.74,.9722,2.36,.9730,2.71,.9739,3.35,.9744,2.79,.9732,3.75,.9718,2.43,.9710,4.02,.9728,1.94,.9740,2.58,.9734,1.98,.9724,2.13,
.9751,2.51,.9752,1.96,.9753,3.12,.9754,2.28,.9755,1.63,.9756,2.79,.9757,3.51,.9758,2.07,.9759,2.61,.9760,1.83,.9761,3.28,.9762,2.39,.9763,1.51,.9764,2.93,.9765,2.15,.9766,3.69,.9767,1.91,.9768,2.47,.9769,1.70,.9770,3.03,.9771,2.22,.9772,2.73,.9773,1.56,.9774,3.38,.9775,2.01,.9776,2.56,.9777,1.77,.9778,3.16,.9779,2.33,.9780,1.62,.9781,2.87,.9782,2.10,.9783,3.47,.9784,1.85,.9785,2.44,.9786,1.21,.9786,2.97,.9787,1.68,.9788,2.26,.9789,3.25,.9790,1.93,.9791,2.59,.9792,1.49,.9793,2.81,.9794,2.12,.9795,3.58,.9796,1.74,.9797,2.36,.9798,1.59,.9799,2.68,.9751,1.74,.9753,2.62,.9755,2.34,.9757,1.88,.9759,3.31,.9761,2.05,.9763,2.48,.9765,1.66,.9767,2.97,.9769,2.41,.9771,1.82,.9773,2.63,.9775,3.07,.9777,2.16,.9779,1.57,.9781,2.38,.9783,2.02,.9785,1.80,.9787,2.71,.9789,2.18,.9791,1.63,.9793,2.30,.9795,1.86,.9797,3.02,.9799,2.00,.9752,2.87,.9756,2.19,.9760,2.90,.9764,2.08,.9768,3.35,.9772,1.99,.9776,2.41,.9780,2.67,.9784,2.32,.9788,1.81,.9792,2.20,.9796,2.53,.9754,1.40,.9762,1.35,.9770,1.42,.9778,1.31,.9784,1.38,.9790,1.27,.9797,1.25,.9758,3.83,.9766,4.06,.9774,3.90,.9782,3.75,.9790,3.66,.9798,3.49,.9757,4.41,.9771,4.55,.9785,4.25,.9793,4.52,.9760,2.23,.9773,2.92,.9779,2.80,.9787,2.29,.9794,2.64,.9799,1.73,
.9801,2.19,.9802,1.57,.9803,2.65,.9804,1.84,.9805,1.28,.9806,2.40,.9807,3.01,.9808,1.71,.9809,2.08,.9810,1.07,.9810,2.79,.9811,0.94,.9811,1.95,.9812,2.52,.9813,1.43,.9814,3.33,.9815,1.88,.9816,2.29,.9817,1.62,.9818,2.73,.9819,1.99,.9820,1.36,.9821,2.46,.9822,1.79,.9823,3.08,.9824,2.13,.9825,1.54,.9826,2.61,.9827,1.91,.9828,1.22,.9829,2.35,.9830,1.74,.9831,2.86,.9832,2.03,.9833,1.47,.9834,2.56,.9835,1.82,.9836,1.16,.9837,2.27,.9838,1.67,.9839,2.98,.9840,1.94,.9841,0.70,.9841,1.39,.9842,2.44,.9843,1.76,.9844,2.15,.9845,1.31,.9846,2.68,.9847,1.87,.9848,1.55,.9849,2.32,
.9801,1.66,.9803,2.02,.9805,2.47,.9807,1.49,.9809,1.85,.9811,2.30,.9813,1.73,.9815,2.61,.9817,1.37,.9819,2.17,.9821,1.60,.9823,2.39,.9825,1.93,.9827,1.33,.9829,2.07,.9831,1.58,.9833,2.21,.9835,1.41,.9837,1.96,.9839,1.50,.9841,2.26,.9843,1.62,.9845,1.99,.9847,1.27,.9849,1.80,
.9802,2.85,.9804,2.58,.9806,1.93,.9808,2.33,.9810,1.51,.9812,1.86,.9814,2.20,.9816,1.49,.9818,1.78,.9820,2.42,.9822,1.29,.9824,1.68,.9826,1.97,.9828,2.54,.9830,1.44,.9832,1.70,.9834,2.11,.9836,1.56,.9838,2.05,.9840,1.25,.9842,1.83,.9844,1.46,.9846,1.72,.9848,2.09,
.9801,3.12,.9804,3.55,.9807,3.88,.9810,3.29,.9813,3.71,.9816,3.04,.9819,3.45,.9822,2.93,.9825,3.20,.9828,3.62,.9831,2.97,.9834,3.16,.9837,2.76,.9840,3.33,.9843,2.89,.9846,3.07,.9849,2.72,
.9803,1.17,.9806,1.05,.9809,1.21,.9812,1.02,.9815,1.11,.9818,0.98,.9821,1.08,.9824,0.93,.9827,1.03,.9830,0.89,.9833,0.99,.9836,0.86,.9839,0.92,.9842,0.81,.9845,0.88,.9848,0.79,
.9805,4.18,.9812,4.01,.9820,4.34,.9827,3.95,.9834,4.47,.9839,4.65,.9839,4.32,.9833,4.07,.9809,4.11,.9802,4.50,.9807,4.38,
.9808,1.40,.9814,1.59,.9819,1.53,.9826,1.19,.9832,1.34,.9838,1.29,.9844,1.09,.9849,1.18,
.9851,1.74,.9852,1.23,.9853,2.12,.9854,1.48,.9855,0.97,.9856,1.86,.9857,2.41,.9858,1.35,.9859,1.62,.9860,1.08,.9861,2.24,.9862,1.55,.9863,1.91,.9864,1.19,.9865,2.66,.9866,1.42,.9867,1.78,.9868,0.89,.9869,2.05,.9870,1.31,.9871,1.67,.9872,0.68,.9872,2.33,.9873,1.15,.9874,1.84,.9875,1.40,.9876,2.01,.9877,0.95,.9878,1.59,.9879,2.49,.9880,1.27,.9881,1.71,.9882,1.02,.9883,1.96,.9884,1.44,.9885,2.18,.9886,0.85,.9887,1.63,.9888,1.11,.9889,1.89,.9890,1.36,.9891,2.27,.9892,0.92,.9893,1.53,.9894,1.20,.9895,1.81,.9896,1.04,.9897,2.10,.9898,1.39,.9899,0.83,
.9851,1.36,.9853,1.67,.9855,2.04,.9857,1.18,.9859,1.97,.9861,1.43,.9863,1.10,.9865,1.73,.9867,1.29,.9869,1.56,.9871,1.06,.9873,2.08,.9875,1.70,.9877,1.25,.9879,1.48,.9881,1.13,.9883,1.61,.9885,1.33,.9887,0.99,.9889,1.52,.9891,1.19,.9893,1.77,.9895,0.96,.9897,1.46,.9899,1.64,
.9852,2.03,.9854,1.06,.9856,1.52,.9858,2.19,.9860,1.77,.9862,1.25,.9864,1.63,.9866,2.14,.9868,1.38,.9870,1.91,.9872,1.51,.9874,1.01,.9876,1.32,.9878,1.88,.9880,1.57,.9882,1.41,.9884,0.91,.9886,1.75,.9888,1.44,.9890,1.01,.9892,1.66,.9894,1.42,.9896,1.28,.9898,1.83,
.9851,2.57,.9854,2.78,.9857,2.92,.9860,2.51,.9863,2.85,.9866,2.60,.9869,2.44,.9872,2.73,.9875,2.38,.9878,2.61,.9881,2.30,.9884,2.52,.9887,2.20,.9890,2.39,.9893,2.09,.9896,2.25,.9899,2.04,
.9852,0.92,.9856,0.84,.9860,0.80,.9864,0.87,.9868,0.77,.9872,0.82,.9876,0.74,.9880,0.78,.9884,0.72,.9888,0.76,.9892,0.70,.9896,0.74,.9899,0.68,
.9855,3.68,.9864,3.41,.9882,3.66,.9887,3.17,.9858,3.25,.9870,3.02,.9876,3.30,.9861,3.51,.9879,2.95,.9893,2.84,.9867,3.14,.9884,3.02,.9896,2.66,.9853,3.35,.9890,2.78,
.9853,1.30,.9857,1.60,.9861,1.15,.9865,1.47,.9869,1.23,.9873,1.42,.9877,1.72,.9881,1.49,.9885,1.26,.9889,1.17,.9893,1.34,.9897,1.21,
.9901,1.35,.9902,0.98,.9903,1.72,.9904,1.14,.9905,0.81,.9906,1.53,.9907,2.04,.9908,1.05,.9909,1.28,.9910,0.88,.9911,1.86,.9912,1.21,.9913,1.47,.9914,0.94,.9915,2.21,.9916,1.09,.9917,1.39,.9918,0.75,.9919,1.64,.9920,1.01,.9921,1.30,.9922,0.86,.9923,1.91,.9924,1.17,.9925,1.45,.9926,0.79,.9927,1.58,.9928,1.06,.9929,1.25,.9930,0.56,.9930,1.79,.9931,0.93,.9932,1.36,.9933,1.12,.9934,1.99,.9935,0.84,.9936,1.50,.9937,1.03,.9938,1.31,.9939,0.71,.9940,1.68,.9941,0.99,.9942,1.23,.9943,0.88,.9944,0.59,.9944,1.43,.9945,1.08,.9946,1.83,.9947,0.78,.9948,1.19,.9949,0.95,.9950,1.37,
.9901,1.02,.9903,1.24,.9905,1.58,.9907,0.90,.9909,1.47,.9911,1.08,.9913,0.83,.9915,1.33,.9917,0.97,.9919,1.19,.9921,0.76,.9923,1.39,.9925,1.03,.9927,0.87,.9929,1.44,.9931,1.16,.9933,0.77,.9935,1.21,.9937,0.91,.9939,1.10,.9941,1.40,.9943,1.05,.9945,0.80,.9947,1.27,.9949,1.12,.9951,0.92,
.9902,1.63,.9904,0.85,.9906,1.16,.9908,1.40,.9910,1.66,.9912,0.99,.9914,1.24,.9916,1.70,.9918,1.13,.9920,1.48,.9922,1.05,.9924,0.82,.9926,1.27,.9928,1.52,.9930,1.00,.9932,0.74,.9934,1.18,.9936,1.33,.9938,0.86,.9940,1.20,.9942,0.97,.9944,1.15,.9946,0.70,.9948,1.01,.9950,0.85,.9951,1.26,
.9902,2.26,.9905,2.43,.9908,2.08,.9911,2.35,.9914,1.97,.9917,2.16,.9920,1.87,.9923,2.06,.9926,2.28,.9929,1.93,.9932,2.12,.9935,1.76,.9938,1.95,.9941,1.80,.9944,2.01,.9947,1.71,.9950,1.90,
.9903,0.72,.9907,0.67,.9911,0.73,.9915,0.66,.9919,0.69,.9923,0.64,.9927,0.68,.9931,0.62,.9935,0.65,.9939,0.61,.9943,0.66,.9947,0.60,.9950,0.63,
.9906,3.12,.9933,2.89,.9948,2.41,.9941,2.63,.9927,2.42,.9950,2.21,.9912,2.71,.9918,2.54,.9923,2.62,.9909,2.90,.9936,2.30,.9915,2.47,.9945,2.25,.9930,2.16,
.9904,1.43,.9909,1.12,.9913,1.60,.9917,1.55,.9921,0.92,.9925,1.64,.9929,1.09,.9933,1.52,.9937,1.46,.9941,1.13,.9945,1.56,.9949,0.83,.9951,1.06,.9943,0.73,.9939,0.94,.9935,1.06,.9931,1.29,.9927,0.95,.9920,1.29,.9946,1.00,
.9552,3.05,.9556,4.31,.9560,2.76,.9564,3.61,.9568,2.44,.9572,3.33,.9576,4.18,.9580,2.95,.9584,3.70,.9588,2.53,.9592,3.51,.9596,2.97,.9600,4.05,.9604,3.30,.9608,2.66,.9612,3.80,.9616,2.37,.9620,3.46,.9624,4.43,.9628,2.95,.9632,3.72,.9636,2.44,.9640,3.08,.9644,4.27,.9648,2.80,.9558,4.76,.9570,2.15,.9582,4.70,.9594,2.50,.9606,3.98,.9618,2.70,.9630,3.19,.9642,2.09,.9650,3.67,.9574,3.02,.9586,3.28,.9598,3.84,.9610,2.33,.9622,3.59,.9634,4.62,
.9651,3.42,.9654,2.50,.9657,3.12,.9660,3.82,.9663,2.33,.9666,2.92,.9669,3.65,.9672,2.19,.9675,3.07,.9678,2.52,.9681,3.49,.9684,2.16,.9687,2.88,.9690,3.30,.9693,2.55,.9696,3.42,.9699,2.18,.9702,2.86,.9705,3.26,.9708,2.00,.9711,2.47,.9714,3.14,.9717,2.22,.9720,2.80,.9723,3.62,.9726,2.33,.9729,2.74,.9732,1.91,.9735,2.60,.9738,3.08,.9741,2.28,.9744,2.57,.9747,1.88,.9750,2.92,.9656,2.24,.9668,2.00,.9680,1.87,.9692,2.05,.9704,1.77,.9716,1.65,.9728,1.84,.9740,1.73,.9748,2.26,.9662,3.96,.9674,3.71,.9686,4.10,.9698,3.56,.9710,3.33,.9722,3.96,.9734,3.40,
.9751,2.15,.9753,2.76,.9755,1.84,.9757,2.44,.9759,2.00,.9761,2.62,.9763,2.15,.9765,2.71,.9767,1.76,.9769,2.18,.9771,2.58,.9773,1.82,.9775,2.25,.9777,2.86,.9779,1.90,.9781,2.13,.9783,2.65,.9785,1.59,.9787,2.04,.9789,2.48,.9791,1.88,.9793,2.06,.9795,2.39,.9797,1.66,.9799,2.28,.9801,1.87,.9803,2.38,.9805,1.60,.9807,2.17,.9809,1.55,.9811,1.69,.9813,2.01,.9815,1.30,.9817,1.90,.9819,2.45,.9821,1.46,.9823,1.75,.9825,2.24,.9827,1.58,.9829,1.82,.9831,1.24,.9833,1.90,.9835,2.35,.9837,1.47,.9839,1.78,.9841,1.59,.9843,2.03,.9845,1.66,.9847,2.20,.9849,1.43,.9754,1.90,.9760,2.52,.9766,1.80,.9772,2.40,.9778,2.05,.9784,2.78,.9790,2.12,.9796,1.97,.9802,2.28,.9808,1.94,.9814,1.75,.9820,1.99,.9826,1.73,.9832,2.29,.9838,1.93,.9844,1.87,.9848,1.64,.9812,1.29,.9824,1.37,.9836,1.33,.9846,1.23,.9800,1.50,.9792,1.68,.9780,2.49,.9770,2.00,.9764,2.37,
.9851,1.92,.9852,1.49,.9853,1.15,.9854,1.82,.9855,1.53,.9856,1.22,.9857,1.80,.9858,1.04,.9859,1.41,.9860,1.96,.9861,1.27,.9862,1.74,.9863,1.38,.9864,2.02,.9865,1.09,.9866,1.60,.9867,1.98,.9868,1.18,.9869,1.74,.9870,1.49,.9871,1.26,.9872,1.91,.9873,1.56,.9874,1.32,.9875,1.10,.9876,1.66,.9877,1.44,.9878,1.20,.9879,1.77,.9880,1.02,.9881,1.55,.9882,1.81,.9883,1.23,.9884,1.65,.9885,1.02,.9886,1.46,.9887,1.85,.9888,1.29,.9889,1.06,.9890,1.63,.9891,1.40,.9892,1.18,.9893,0.97,.9894,1.56,.9895,1.31,.9896,1.61,.9897,0.90,.9898,1.14,.9899,1.45,
.9901,1.18,.9902,1.45,.9903,0.95,.9904,1.63,.9905,1.30,.9906,0.98,.9907,1.22,.9908,1.62,.9909,0.84,.9910,1.37,.9911,1.55,.9912,1.10,.9913,1.33,.9914,1.59,.9915,0.89,.9916,1.24,.9917,1.69,.9918,1.02,.9919,1.39,.9920,0.83,.9921,1.12,.9922,1.47,.9923,1.06,.9924,1.32,.9925,0.90,.9926,1.14,.9927,1.29,.9928,0.88,.9929,1.61,.9930,1.25,.9931,1.06,.9932,0.93,.9933,1.33,.9934,0.83,.9935,1.45,.9936,1.12,.9937,1.25,.9938,1.03,.9939,1.41,.9940,0.91,.9941,1.28,.9942,1.07,.9943,1.24,.9944,0.78,.9945,1.30,.9946,1.16,.9947,1.04,.9948,0.88,.9949,1.30,.9950,1.08,.9951,0.75,.9949,0.70,.9945,0.65,.9940,0.74,.9936,0.72,.9932,0.66,.9926,0.72,.9921,0.67,.9916,0.80,.9912,0.79,.9906,0.76,.9951,1.47,.9944,1.68,.9938,1.63,.9932,1.72,.9926,1.55,
.9842,1.22,.9846,1.52,.9850,1.05,.9854,1.33,.9858,1.60,.9862,0.98,.9866,1.27,.9870,1.70,.9874,1.18,.9878,1.45,.9882,0.88,.9886,1.21,.9890,1.52,.9894,1.07,.9898,1.26,.9902,0.90,.9906,1.37,.9910,1.12,.9914,0.80,.9918,1.28,.9922,1.58,.9926,0.96,.9930,1.41,.9934,1.04,.9938,1.20,.9942,0.81,.9946,1.36,.9950,1.16,
.9844,1.70,.9848,0.98,.9852,1.64,.9856,1.06,.9860,1.40,.9864,1.73,.9868,1.09,.9872,1.33,.9876,0.93,.9880,1.69,.9884,1.16,.9888,1.58,.9892,1.29,.9896,0.86,.9900,1.21,.9904,1.53,.9908,0.77,.9912,1.45,.9916,1.02,.9920,1.20,.9924,1.48,.9928,0.76,.9932,1.20,.9936,0.92,.9940,1.51,.9944,1.02,.9948,0.73,.9951,1.18,
.9845,0.96,.9853,0.86,.9861,0.89,.9869,0.82,.9877,0.80,.9885,0.83,.9893,0.78,.9901,0.74,.9909,0.71,.9917,0.70,.9925,0.68,.9933,0.64,.9941,0.64,.9949,0.62,.9857,1.42,.9865,1.88,.9873,1.73,.9881,1.37,.9889,1.74,.9897,1.69,.9905,1.86,.9913,1.76,.9921,1.58,.9929,1.73,.9937,1.60,.9945,1.45,
.9943,0.96,.9947,0.87,.9939,1.17,.9935,1.30,.9931,0.81,.9927,1.09,.9923,0.85,.9919,1.06,.9915,1.13,.9911,0.95,.9907,1.11,.9903,1.03,.9899,1.04,.9895,1.11,.9891,0.97,.9887,1.40,.9883,0.99,.9879,1.06,.9875,1.53,.9871,0.96,.9867,1.43,.9863,1.52,.9859,1.24,.9855,1.18
];

const toPairs = arr => d3.range(0, arr.length - 1, 2).map(i => [arr[i], arr[i + 1]]);
const svg = d3.select("#chart");
const dotColor = "#4b2570";
const FONT = '"Latin Modern Roman", "Liberation Serif", "Times New Roman"';
const TICK_FS = 30, TITLE_FS = 29, LABEL_FS = 28.3;

function drawPanel(cfg) {
  const top = 72.3, bottom = 427.7;
  const x = d3.scaleLinear().domain([0.92, 1]).range([cfg.left, cfg.right]);
  const y = d3.scaleLinear().domain(cfg.yDomain).range([bottom, top]);
  const g = svg.append("g");

  g.append("g").selectAll("circle").data(cfg.points).join("circle")
    .attr("cx", d => x(d[0])).attr("cy", d => y(d[1]))
    .attr("r", 1.4).attr("fill", dotColor);

  const fmtX = d => d === 1 ? "1" : d3.format(".2f")(d);
  const style = sel => {
    sel.attr("font-size", null).attr("font-family", null);
    sel.select(".domain").remove();
    sel.selectAll(".tick line").attr("stroke", "#a8a8a8").attr("stroke-width", 1);
    sel.selectAll(".tick text").style("font-family", FONT).style("font-size", TICK_FS + "px").attr("fill", "#111");
  };

  g.append("g").attr("transform", `translate(0,${bottom})`)
    .call(d3.axisBottom(x).tickValues(xTickValues).tickSize(-11).tickPadding(19).tickFormat(fmtX))
    .call(style);
  g.append("g").attr("transform", `translate(0,${top})`)
    .call(d3.axisTop(x).tickValues(xTickValues).tickSize(-11).tickFormat(() => ""))
    .call(style);
  const la = g.append("g").attr("transform", `translate(${cfg.left},0)`)
    .call(d3.axisLeft(y).tickValues(cfg.yTicks).tickSize(-11).tickFormat(d3.format("d")))
    .call(style);
  la.selectAll(".tick text").attr("text-anchor", "middle").attr("x", -cfg.labelOffset);
  g.append("g").attr("transform", `translate(${cfg.right},0)`)
    .call(d3.axisRight(y).tickValues(cfg.yTicks).tickSize(-11).tickFormat(() => ""))
    .call(style);

  g.append("rect").attr("x", cfg.left).attr("y", top)
    .attr("width", cfg.right - cfg.left).attr("height", bottom - top)
    .attr("fill", "none").attr("stroke", "#1a1a1a").attr("stroke-width", 1.3);

  const t = g.append("text").attr("x", cfg.titleX).attr("y", 38)
    .attr("text-anchor", "middle").attr("fill", "#111")
    .style("font-family", FONT).style("font-size", TITLE_FS + "px");
  cfg.title(t);

  const xl = g.append("text").attr("x", cfg.xLabelX).attr("y", 496)
    .attr("text-anchor", "middle").attr("fill", "#111")
    .style("font-family", FONT).style("font-size", LABEL_FS + "px");
  xl.append("tspan").text(xLabel);
  xl.append("tspan").style("font-style", "italic").text("ρ");
  xl.append("tspan").style("font-style", "italic").style("font-size", "19px").attr("dy", 4).text("z");
}

drawPanel({
  left: 51, right: 512, yDomain: [0, 60], yTicks: welfareTicks, labelOffset: 24,
  points: toPairs(welfareData), titleX: 278, xLabelX: 268,
  title: t => t.text(leftTitle)
});
drawPanel({
  left: 588, right: 1049, yDomain: [0, 8], yTicks: phiTicks, labelOffset: 21,
  points: toPairs(phiData), titleX: 817, xLabelX: 811,
  title: t => {
    t.append("tspan").text(rightTitle);
    t.append("tspan").text("ϕ");
    t.append("tspan").style("font-size", "20px").attr("dy", 6).text("ς");
  }
});
</script></body></html>
